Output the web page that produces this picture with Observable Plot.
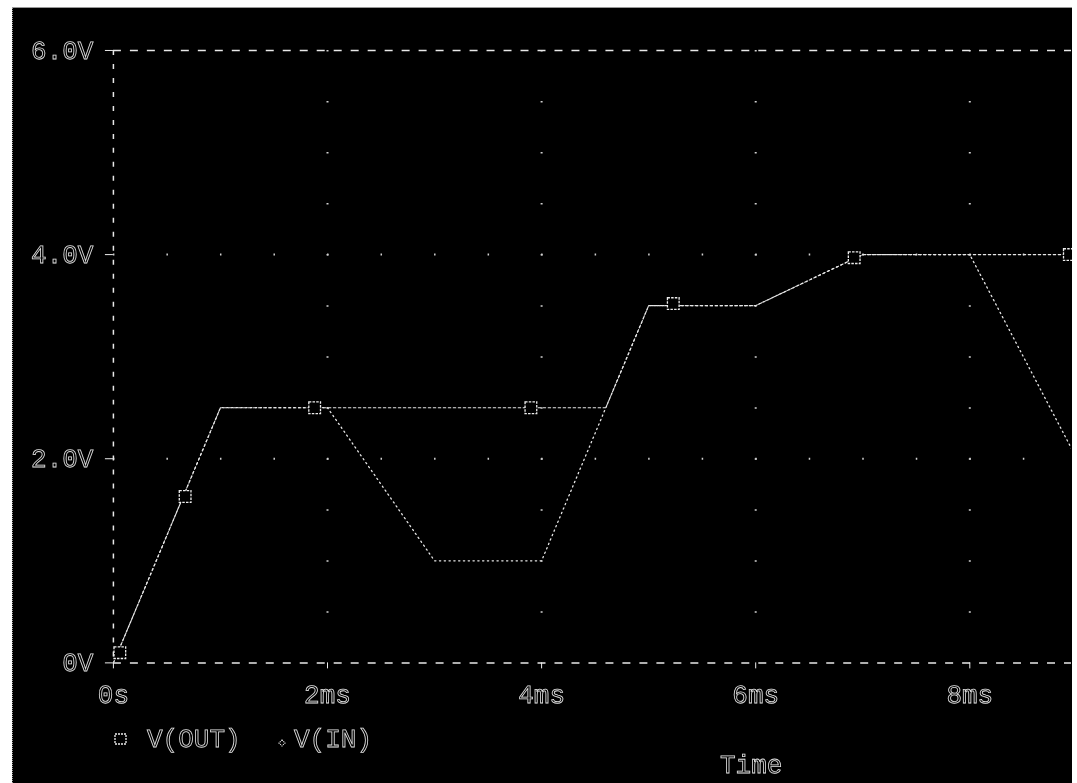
<!DOCTYPE html>
<html>
<head>
<meta charset="utf-8">
<script src="https://cdn.jsdelivr.net/npm/d3@7"></script>
<script src="https://cdn.jsdelivr.net/npm/@observablehq/plot@0.6"></script>
<style>
  html, body { margin: 0; padding: 0; background: #fff; width: 1077px; height: 783px; overflow: hidden; }
  #screen { position: absolute; left: 12px; top: 7px; width: 1060px; height: 776px; background: #000;
            border-top: 1px solid #999; border-left: 1px dotted #999; box-sizing: border-box; overflow: hidden; }
  #screen svg { position: absolute; left: -1px; top: -1px; will-change: transform; }
  .scopetext, #screen svg text {
    font-family: "Liberation Mono", "DejaVu Sans Mono", monospace; font-size: 26px;
    fill: none; stroke: #e2e2e2; stroke-width: 0.8px;
    -webkit-font-smoothing: grayscale; text-rendering: geometricPrecision;
  }
  #legend { position: absolute; left: 100px; top: 710px; }
  #timeLabel { position: absolute; left: 706px; top: 740px; }
</style>
</head>
<body>
<div id="screen"></div>
<script>
// V(IN): piecewise-linear input, time in ms, volts
const inTime  = [0, 1, 2, 3, 4, 5, 6, 7, 8, 10];
const inVolts = [0, 2.5, 2.5, 1, 1, 3.5, 3.5, 4, 4, 0];

// V(OUT): peak-held output
const outTime  = [0, 1, 4.6, 5, 6, 7, 10];
const outVolts = [0, 2.5, 2.5, 3.5, 3.5, 4, 4];

// square markers placed along V(OUT)
const markTime  = [0.06, 0.67, 1.88, 3.9, 5.23, 6.92, 8.93];
const markVolts = [0.1, 1.63, 2.5, 2.5, 3.52, 3.97, 4.0];

// axes
const xTicks = [0, 2, 4, 6, 8];
const xTickLabels = ["0s", "2ms", "4ms", "6ms", "8ms"];
const yTicks = [0, 2, 4, 6];
const yTickLabels = ["0V", "2.0V", "4.0V", "6.0V"];
const xGridLines = [2, 4, 6, 8];
const yGridLines = [2, 4];
const legendNames = ["V(OUT)", "V(IN)"];
const axisTitle = "Time";

const W = 1060, H = 776;
const mL = 101, mR = 0, mT = 43, mB = 120;
const xMax = 8.95;

const outData = outTime.map((t, i) => ({t, v: outVolts[i]}));
const inData = inTime.map((t, i) => ({t, v: inVolts[i]}));
const markData = markTime.map((t, i) => ({t, v: markVolts[i]}));

// dotted grid spacing: one dot every half division
const pxPerHalfX = (W - mL - mR) / xMax * 0.5;
const pxPerHalfY = (H - mT - mB) / 6 * 0.5;

const chart = Plot.plot({
  width: W, height: H,
  marginLeft: mL, marginRight: mR, marginTop: mT, marginBottom: mB,
  style: {background: "transparent", color: "#eee", overflow: "visible"},
  x: {domain: [0, xMax], label: null},
  y: {domain: [0, 6], label: null},
  marks: [
    Plot.ruleX(xGridLines, {stroke: "#d0d0d0", strokeWidth: 2, strokeDasharray: `1.5 ${pxPerHalfY - 1.5}`}),
    Plot.ruleY(yGridLines, {stroke: "#d0d0d0", strokeWidth: 2, strokeDasharray: `1.5 ${pxPerHalfX - 1.5}`}),
    Plot.ruleY([0, 6], {stroke: "#e8e8e8", strokeWidth: 1.5, strokeDasharray: "8 9"}),
    Plot.ruleX([0], {stroke: "#e8e8e8", strokeWidth: 1.5, strokeDasharray: "5 9"}),
    Plot.axisX(xTicks, {
      label: null, tickSize: 6, tickPadding: 16, stroke: "#eee",
      tickFormat: d => xTickLabels[xTicks.indexOf(d)]
    }),
    Plot.axisY(yTicks, {
      label: null, tickSize: 8, tickPadding: 12, stroke: "#eee",
      tickFormat: d => yTickLabels[yTicks.indexOf(d)]
    }),
    Plot.line(outData, {x: "t", y: "v", stroke: "#e6e6e6", strokeWidth: 1.1, strokeDasharray: "2.5 2.5", clip: true}),
    Plot.line(inData, {x: "t", y: "v", stroke: "#e6e6e6", strokeWidth: 1.3, strokeDasharray: "1.3 3.5", clip: true}),
    Plot.dot(markData, {x: "t", y: "v", symbol: "square", r: 6.6, fill: "black", stroke: "#eeeeee",
      strokeWidth: 1.3, strokeDasharray: "2.5 1.2"})
  ]
});
document.getElementById("screen").appendChild(chart);

// legend and axis title
const screen = document.getElementById("screen");
const legend = document.createElement("div");
legend.id = "legend";
legend.innerHTML =
  `<svg width="300" height="40" style="overflow:visible">
     <rect x="3" y="17" width="11" height="10" fill="none" stroke="#eee" stroke-width="1.3" stroke-dasharray="2 1"></rect>
     <text x="35" y="30" class="scopetext">${legendNames[0]}</text>
     <path d="M170,23 l3,3 l-3,3 l-3,-3 z" fill="none" stroke="#eee" stroke-width="1.2" stroke-dasharray="1 1"></path>
     <text x="182" y="30" class="scopetext">${legendNames[1]}</text>
   </svg>`;
screen.appendChild(legend);
const tl = document.createElement("div");
tl.id = "timeLabel";
tl.innerHTML = `<svg width="90" height="34"><text x="2" y="26" class="scopetext">${axisTitle}</text></svg>`;
screen.appendChild(tl);
</script>
</body>
</html>
